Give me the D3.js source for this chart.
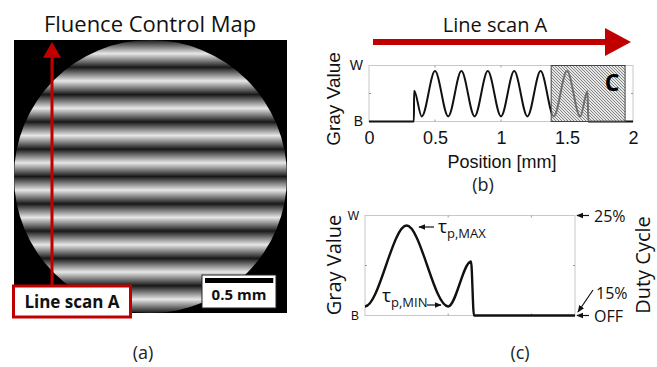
<!DOCTYPE html>
<html>
<head>
<meta charset="utf-8">
<script src="https://cdn.jsdelivr.net/npm/d3@7"></script>
<style>
  body { margin: 0; background: #fff; }
  svg { display: block; }
</style>
</head>
<body>
<div id="chart"></div>
<script>
// gray value along line scan A: [position mm, gray 0=B .. 1=W]
const scanA = [
  [0, 0], [0.34, 0], [0.342, 0.55], [0.40, 0.09], [0.50, 0.90], [0.60, 0.09],
  [0.70, 0.90], [0.80, 0.09], [0.90, 0.90], [1.00, 0.09], [1.10, 0.90],
  [1.20, 0.09], [1.30, 0.90], [1.40, 0.09], [1.50, 0.90], [1.60, 0.09],
  [1.655, 0.54], [1.662, 0], [2, 0]
];
// fringe brightness across the map (bottom -> top), [position mm, gray]
const fringe = [
  [0.0, 0.05], [0.1, 0.95], [0.2, 0.05], [0.3, 0.95], [0.4, 0.05], [0.5, 0.95],
  [0.6, 0.05], [0.7, 0.95], [0.8, 0.05], [0.9, 0.95], [1.0, 0.05], [1.1, 0.95],
  [1.2, 0.05], [1.3, 0.95], [1.4, 0.05], [1.5, 0.95], [1.6, 0.05], [1.7, 0.95],
  [1.8, 0.05], [1.9, 0.95], [2.0, 0.05]
];
const xTicksB = [0, 0.5, 1, 1.5, 2];
const grayLabels = ["B", "W"];
const regionC = [1.38, 1.94];
const zoomDomainC = [1.4, 1.905];
const minorTicksC = [1.6, 1.8];
const dutyLabels = ["25%", "15%", "OFF"];

const W = 657, H = 367;
const RED = "#c00000";
const SANS = "'Open Sans', sans-serif";
const MAT = "'Liberation Sans', Arial, sans-serif";
const FRAME = "#c8c8c8";

const svg = d3.select("#chart").append("svg").attr("width", W).attr("height", H);
const defs = svg.append("defs");

// ---------- panel (a) ----------
const yA = d3.scaleLinear().domain([0, 2]).range([313, 40]);
const boxA = {x: 14, y: 40, w: 273, h: 273};
const grayToColor = d3.interpolateRgb("#0c0c0c", "#f2f2f2");

const grad = defs.append("linearGradient").attr("id", "fringes")
  .attr("gradientUnits", "userSpaceOnUse")
  .attr("x1", 0).attr("x2", 0).attr("y1", yA(0)).attr("y2", yA(2));
grad.selectAll("stop").data(fringe).join("stop")
  .attr("offset", d => d[0] / 2)
  .attr("stop-color", d => grayToColor(d[1]));

svg.append("text").attr("x", 150).attr("y", 32).attr("text-anchor", "middle")
  .style("font-family", SANS).style("font-size", "22px").attr("fill", "#111")
  .text("Fluence Control Map");

svg.append("rect").attr("x", boxA.x).attr("y", boxA.y).attr("width", boxA.w).attr("height", boxA.h)
  .attr("fill", "#000");
svg.append("circle").attr("cx", boxA.x + boxA.w / 2).attr("cy", boxA.y + boxA.h / 2)
  .attr("r", boxA.w / 2).attr("fill", "url(#fringes)");

// scan arrow
const scanX = 52;
svg.append("line").attr("x1", scanX).attr("x2", scanX).attr("y1", 290).attr("y2", yA(1.96))
  .attr("stroke", RED).attr("stroke-width", 3);
svg.append("path")
  .attr("d", `M${scanX - 9},${yA(1.87)} L${scanX},${yA(2) + 2} L${scanX + 9},${yA(1.87)} Z`)
  .attr("fill", RED);

svg.append("rect").attr("x", 13.5).attr("y", 286).attr("width", 117).attr("height", 31)
  .attr("fill", "#fff").attr("stroke", RED).attr("stroke-width", 3);
svg.append("text").attr("x", 72).attr("y", 308).attr("text-anchor", "middle")
  .style("font-family", SANS).style("font-size", "17px").style("font-weight", "bold").attr("fill", "#111")
  .text("Line scan A");

// scale bar
svg.append("rect").attr("x", 202).attr("y", 275).attr("width", 74).attr("height", 33)
  .attr("fill", "#fff").attr("stroke", "#222").attr("stroke-width", 1);
svg.append("line").attr("x1", 205).attr("x2", 205 + (yA(0) - yA(0.5))).attr("y1", 280.5).attr("y2", 280.5)
  .attr("stroke", "#000").attr("stroke-width", 5);
svg.append("text").attr("x", 239).attr("y", 300).attr("text-anchor", "middle")
  .style("font-family", SANS).style("font-size", "15px").style("font-weight", "bold").attr("fill", "#111")
  .text("0.5 mm");

svg.append("text").attr("x", 143).attr("y", 359).attr("text-anchor", "middle")
  .style("font-family", SANS).style("font-size", "18px").attr("fill", "#222").text("(a)");

// ---------- panel (b) ----------
const xB = d3.scaleLinear().domain([0, 2]).range([369, 633]);
const yB = d3.scaleLinear().domain([0, 1]).range([121.5, 65.5]);

// title arrow
svg.append("text").attr("x", 495).attr("y", 32).attr("text-anchor", "middle")
  .style("font-family", SANS).style("font-size", "20px").attr("fill", "#111").text("Line scan A");
svg.append("line").attr("x1", 373).attr("x2", 607).attr("y1", 42).attr("y2", 42)
  .attr("stroke", RED).attr("stroke-width", 6);
svg.append("path").attr("d", "M605,28 L631,42 L605,56 Z").attr("fill", RED);

const gB = svg.append("g");
gB.append("rect").attr("x", xB(0)).attr("y", yB(1)).attr("width", xB(2) - xB(0)).attr("height", yB(0) - yB(1))
  .attr("fill", "none").attr("stroke", FRAME).attr("stroke-width", 1);
// minor frame ticks
[0.5, 1, 1.5].forEach(v => {
  gB.append("line").attr("x1", xB(v)).attr("x2", xB(v)).attr("y1", yB(1)).attr("y2", yB(1) + 2).attr("stroke", "#999");
  gB.append("line").attr("x1", xB(v)).attr("x2", xB(v)).attr("y1", yB(0)).attr("y2", yB(0) - 2).attr("stroke", "#999");
});
gB.append("line").attr("x1", xB(0)).attr("x2", xB(0) + 2).attr("y1", yB(0.5)).attr("y2", yB(0.5)).attr("stroke", "#999");
gB.append("line").attr("x1", xB(2)).attr("x2", xB(2) - 2).attr("y1", yB(0.5)).attr("y2", yB(0.5)).attr("stroke", "#999");

const lineB = d3.line().x(d => xB(d[0])).y(d => yB(d[1])).curve(d3.curveMonotoneX);
gB.append("path").datum(scanA).attr("d", lineB)
  .attr("fill", "none").attr("stroke", "#111").attr("stroke-width", 2);

// hatched region C
const hatch = defs.append("pattern").attr("id", "hatch").attr("patternUnits", "userSpaceOnUse")
  .attr("width", 3).attr("height", 3);
hatch.append("rect").attr("width", 3).attr("height", 3).attr("fill", "#d0d0d0").attr("fill-opacity", 0.5);
hatch.append("path").attr("d", "M-1,2 L1,4 M0,0 L3,3 M2,-1 L4,1")
  .attr("stroke", "#6a6a6a").attr("stroke-width", 0.8);
gB.append("rect").attr("x", xB(regionC[0])).attr("y", yB(1))
  .attr("width", xB(regionC[1]) - xB(regionC[0])).attr("height", yB(0) - yB(1))
  .attr("fill", "url(#hatch)").attr("stroke", "#444").attr("stroke-width", 1);
gB.append("text").attr("x", 612).attr("y", 91).attr("text-anchor", "middle")
  .style("font-family", SANS).style("font-size", "23px").style("font-weight", "bold").attr("fill", "#000")
  .text("C");

// axes
const axB = gB.append("g").attr("transform", `translate(0,${yB(0)})`)
  .call(d3.axisBottom(xB).tickValues(xTicksB).tickFormat(d3.format("~g")).tickSize(0).tickPadding(10));
axB.select(".domain").remove();
axB.selectAll("text").style("font-family", MAT).style("font-size", "18px").attr("fill", "#111");

const ayB = gB.append("g").attr("transform", `translate(${xB(0)},0)`)
  .call(d3.axisLeft(yB).tickValues([0, 1]).tickFormat((d, i) => grayLabels[i]).tickSize(0).tickPadding(6));
ayB.select(".domain").remove();
ayB.selectAll("text").style("font-family", MAT).style("font-size", "14px").attr("fill", "#111");

gB.append("text").attr("x", 502).attr("y", 168).attr("text-anchor", "middle")
  .style("font-family", MAT).style("font-size", "18px").attr("fill", "#111").text("Position [mm]");
gB.append("text").attr("transform", "translate(340,99) rotate(-90)").attr("text-anchor", "middle")
  .style("font-family", MAT).style("font-size", "19px").attr("fill", "#111").text("Gray Value");
svg.append("text").attr("x", 483).attr("y", 191).attr("text-anchor", "middle")
  .style("font-family", SANS).style("font-size", "18px").attr("fill", "#222").text("(b)");

// ---------- panel (c) ----------
const xC = d3.scaleLinear().domain(zoomDomainC).range([365, 575]);
const yC = d3.scaleLinear().domain([0, 1]).range([315.5, 215.5]);
const gC = svg.append("g");

defs.append("clipPath").attr("id", "clipC").append("rect")
  .attr("x", xC.range()[0]).attr("y", yC(1) - 5).attr("width", xC.range()[1] - xC.range()[0]).attr("height", yC(0) - yC(1) + 10);

gC.append("rect").attr("x", xC.range()[0]).attr("y", yC(1)).attr("width", xC.range()[1] - xC.range()[0])
  .attr("height", yC(0) - yC(1)).attr("fill", "none").attr("stroke", FRAME).attr("stroke-width", 1);
minorTicksC.forEach(v => {
  gC.append("line").attr("x1", xC(v)).attr("x2", xC(v)).attr("y1", yC(1)).attr("y2", yC(1) + 2).attr("stroke", "#999");
  gC.append("line").attr("x1", xC(v)).attr("x2", xC(v)).attr("y1", yC(0)).attr("y2", yC(0) - 2).attr("stroke", "#999");
});
gC.append("line").attr("x1", xC.range()[0]).attr("x2", xC.range()[0] + 2).attr("y1", yC(0.5)).attr("y2", yC(0.5)).attr("stroke", "#999");
gC.append("line").attr("x1", xC.range()[1]).attr("x2", xC.range()[1] - 2).attr("y1", yC(0.5)).attr("y2", yC(0.5)).attr("stroke", "#999");

const lineC = d3.line().x(d => xC(d[0])).y(d => yC(d[1])).curve(d3.curveMonotoneX);
gC.append("path").datum(scanA).attr("d", lineC).attr("clip-path", "url(#clipC)")
  .attr("fill", "none").attr("stroke", "#111").attr("stroke-width", 2.4);

const ayC = gC.append("g").attr("transform", `translate(${xC.range()[0]},0)`)
  .call(d3.axisLeft(yC).tickValues([0, 1]).tickFormat((d, i) => grayLabels[i]).tickSize(0).tickPadding(6));
ayC.select(".domain").remove();
ayC.selectAll("text").style("font-family", MAT).style("font-size", "12px").attr("fill", "#111");

gC.append("text").attr("transform", "translate(341,265) rotate(-90)").attr("text-anchor", "middle")
  .style("font-family", SANS).style("font-size", "20px").attr("fill", "#111").text("Gray Value");
gC.append("text").attr("transform", "translate(650,265) rotate(-90)").attr("text-anchor", "middle")
  .style("font-family", SANS).style("font-size", "20px").attr("fill", "#111").text("Duty Cycle");

// arrows
defs.append("marker").attr("id", "ah").attr("viewBox", "0 0 10 10").attr("refX", 9).attr("refY", 5)
  .attr("markerWidth", 6).attr("markerHeight", 6).attr("orient", "auto")
  .append("path").attr("d", "M0,1 L10,5 L0,9 Z").attr("fill", "#111");
function arrow(x1, y1, x2, y2) {
  gC.append("line").attr("x1", x1).attr("y1", y1).attr("x2", x2).attr("y2", y2)
    .attr("stroke", "#111").attr("stroke-width", 1.2).attr("marker-end", "url(#ah)");
}
arrow(589, yC(1), 577, yC(1));
arrow(589, yC(0), 577, yC(0));
arrow(593, 290, 578, 312);

const labC = gC.append("g").style("font-family", SANS).style("font-size", "16px").attr("fill", "#111");
labC.append("text").attr("x", 594).attr("y", yC(1) + 6).text(dutyLabels[0]);
labC.append("text").attr("x", 596).attr("y", 299).text(dutyLabels[1]);
labC.append("text").attr("x", 594).attr("y", yC(0) + 6).text(dutyLabels[2]);

// tau annotations
arrow(434, 227, 419, 227);
const tMax = gC.append("text").attr("x", 438).attr("y", 233).style("font-family", SANS).attr("fill", "#111");
tMax.append("tspan").style("font-size", "19px").text("τ");
tMax.append("tspan").style("font-size", "13px").attr("dy", 5).text("p,MAX");

const tMin = gC.append("text").attr("x", 382).attr("y", 302).style("font-family", SANS).attr("fill", "#111");
tMin.append("tspan").style("font-size", "19px").text("τ");
tMin.append("tspan").style("font-size", "13px").attr("dy", 5).text("p,MIN");
arrow(427, 305, 441, 305);

svg.append("text").attr("x", 520).attr("y", 359).attr("text-anchor", "middle")
  .style("font-family", SANS).style("font-size", "18px").attr("fill", "#222").text("(c)");
</script>
</body>
</html>
